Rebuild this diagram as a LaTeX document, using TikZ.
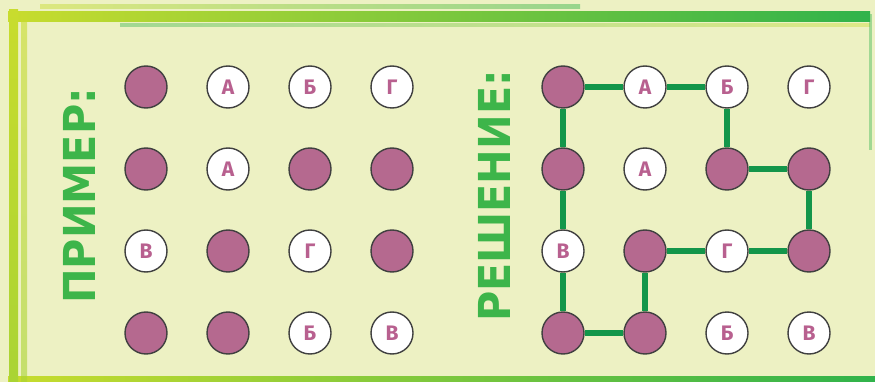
\documentclass[tikz,border=0pt]{standalone}
\usepackage{fontspec}
\setmainfont{Fira Sans}
\newfontfamily\headfont{DejaVu Sans}
\definecolor{paper}{HTML}{EDF1C3}
\definecolor{lime}{HTML}{C8DC2E}
\definecolor{leaf}{HTML}{30B34B}
\definecolor{title}{HTML}{3DB54A}
\definecolor{pathgreen}{HTML}{13964A}
\definecolor{plum}{HTML}{B5698F}
\definecolor{plumtext}{HTML}{B8608F}
\definecolor{rim}{HTML}{404040}
\tikzset{
  dot/.style={circle,draw=rim,line width=1.4pt,fill=plum,minimum size=42pt,inner sep=0pt},
  letter/.style={circle,draw=rim,line width=1.4pt,fill=white,minimum size=42pt,inner sep=0pt,
    text=plumtext,font=\fontsize{21}{21}\selectfont\bfseries},
  heading/.style={rotate=90,text=title,font=\headfont\fontsize{44}{44}\selectfont\bfseries},
  link/.style={pathgreen,line width=6pt},
}
\begin{document}
\begin{tikzpicture}[x=1pt,y=-1pt]
\useasboundingbox (0,0) rectangle (875,382);
\fill[paper] (0,0) rectangle (875,382);
% frame
\shade[left color=lime,right color=leaf] (8,12) rectangle (870,22);
\shade[left color=lime,right color=leaf,opacity=.45] (40,5) rectangle (580,9);
\shade[left color=leaf,right color=lime,opacity=.4] (120,24) rectangle (870,27);
\shade[left color=lime,right color=leaf] (8,376) rectangle (875,382);
\shade[top color=lime,bottom color=lime!80!leaf] (9,10) rectangle (18,382);
\shade[top color=lime,bottom color=lime!80!leaf,opacity=.6] (21,14) rectangle (27,382);
\fill[leaf,opacity=.4] (869,14) rectangle (872,150);
% titles
\node[heading] (ex) at (79,196) {\scalebox{.94}[1]{ПРИМЕР:}};
\node[heading] (so) at (494,196) {\scalebox{.94}[1]{РЕШЕНИЕ:}};
% grids
\foreach \g/\xo in {e/146,s/563} {
  \foreach \c/\r in {1/1,1/2,3/2,4/2,2/3,4/3,1/4,2/4}
    \node[dot] (\g\c\r) at ({\xo+(\c-1)*82},{87+(\r-1)*82}) {};
  \foreach \c/\r/\t in {2/1/А,3/1/Б,4/1/Г,2/2/А,1/3/В,3/3/Г,3/4/Б,4/4/В}
    \node[letter] (\g\c\r) at ({\xo+(\c-1)*82},{87+(\r-1)*82}) {\t};
}
% solution path
\foreach \a/\b in {s11/s21,s21/s31,s31/s32,s32/s42,s42/s43,s43/s33,s33/s23,
                   s23/s24,s24/s14,s14/s13,s13/s12,s12/s11}
  \draw[link] (\a) -- (\b);
\end{tikzpicture}
\end{document}
